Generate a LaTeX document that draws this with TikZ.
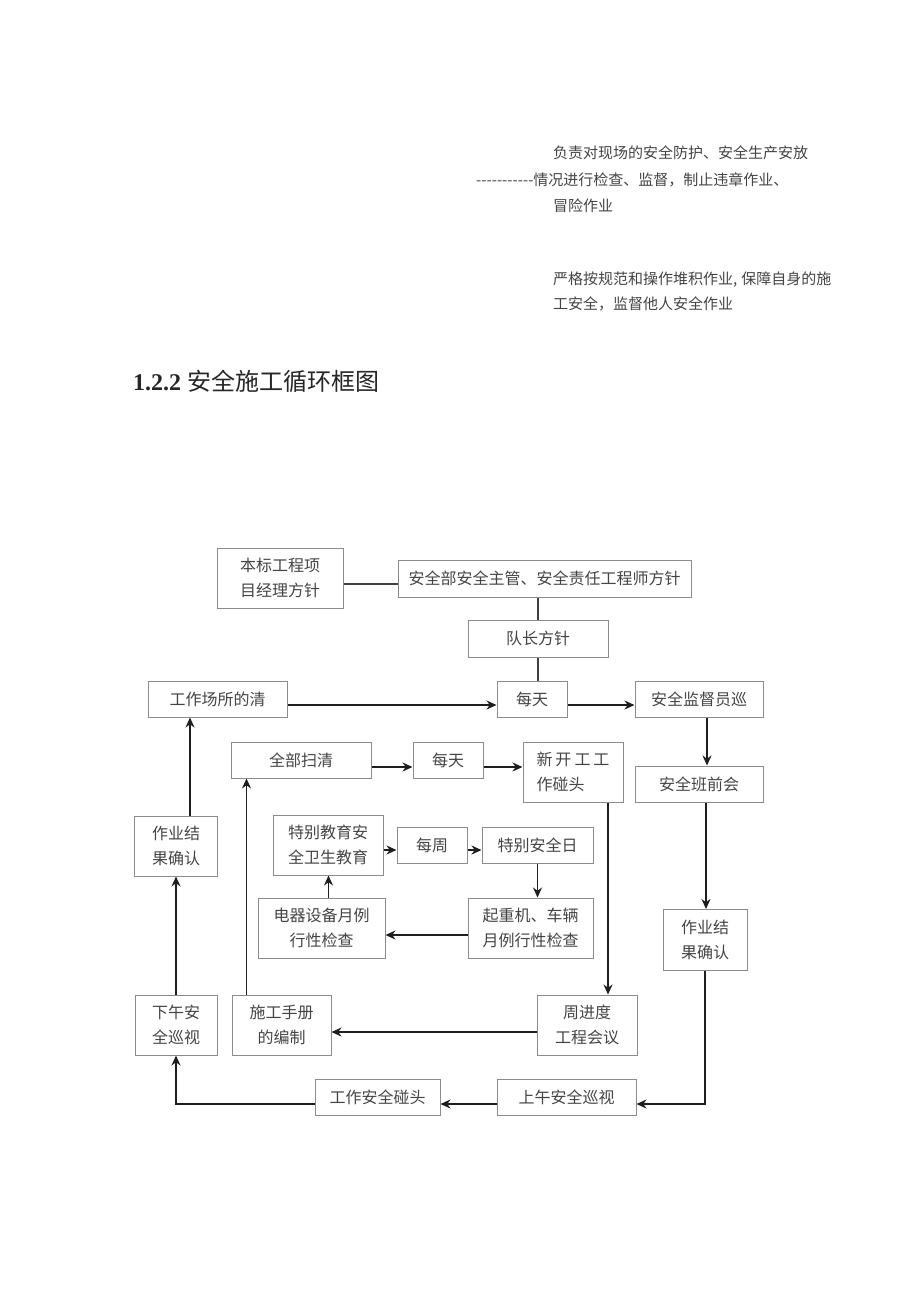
\documentclass[tikz,border=0pt]{standalone}
\usepackage{fontspec}
\newfontfamily\cjk{Noto Sans CJK SC}
\newfontfamily\numfont{Liberation Serif}
\usetikzlibrary{arrows.meta}
\definecolor{boxgray}{HTML}{8C8C8C}
\definecolor{txtgray}{HTML}{444444}
\definecolor{arrgray}{HTML}{1E1E1E}
\begin{document}
\begin{tikzpicture}[x=1pt,y=-1pt,
  box/.style={draw=boxgray,line width=1pt,inner sep=0pt,align=center,text=txtgray,
    font=\cjk\fontsize{16}{25}\selectfont},
  arr/.style={draw=arrgray,line width=1.8pt,-{Stealth[length=10pt,width=9pt]}},
  link/.style={draw=arrgray!85,line width=1.5pt},
  note/.style={anchor=west,inner sep=0pt,text=txtgray,font=\cjk\fontsize{15}{18}\selectfont}]
\useasboundingbox (0,0) rectangle (920,1301);
\node[note] (n1) at (553,153) {负责对现场的安全防护、安全生产安放};
\node[note] (n2) at (476,180) {-{}-{}-{}-{}-{}-{}-{}-{}-{}-{}-情况进行检查、监督，制止违章作业、};
\node[note] (n3) at (553,206) {冒险作业};
\node[note] (n4) at (553,280) {严格按规范和操作堆积作业,\hspace{4pt}保障自身的施};
\node[note] (n5) at (553,304) {工安全，监督他人安全作业};
\node[anchor=west,inner sep=0pt,text=black!85,font=\fontsize{24}{26}\selectfont] (title) at (133,381)
  {\numfont\bfseries 1.2.2\ \cjk\mdseries 安全施工循环框图};
\node[box,minimum width=126pt,minimum height=60pt] (mgr) at (280,578) {本标工程项\\目经理方针};
\node[box,minimum width=293pt,minimum height=37pt] (dept) at (544.5,578.5) {安全部安全主管、安全责任工程师方针};
\node[box,minimum width=140pt,minimum height=37pt] (lead) at (538,638.5) {队长方针};
\node[box,minimum width=139pt,minimum height=36pt] (clean) at (217.5,699) {工作场所的清};
\node[box,minimum width=70pt,minimum height=36pt] (dayA) at (532,699) {每天};
\node[box,minimum width=128pt,minimum height=36pt] (sup) at (699,699) {安全监督员巡};
\node[box,minimum width=140pt,minimum height=36pt] (sweep) at (301,760) {全部扫清};
\node[box,minimum width=70pt,minimum height=36pt] (dayB) at (448,760) {每天};
\node[box,minimum width=100pt,minimum height=60pt,align=left] (start) at (573,772)
  {新\hspace{3pt}开\hspace{3pt}工\hspace{3pt}工\\作碰头};
\node[box,minimum width=128pt,minimum height=36pt] (meet) at (699,784) {安全班前会};
\node[box,minimum width=83pt,minimum height=60pt] (checkL) at (176,846) {作业结\\果确认};
\node[box,minimum width=110pt,minimum height=60pt] (edu) at (328,845) {特别教育安\\全卫生教育};
\node[box,minimum width=70pt,minimum height=36pt] (week) at (432,845) {每周};
\node[box,minimum width=111pt,minimum height=36pt] (sday) at (537.5,845) {特别安全日};
\node[box,minimum width=127pt,minimum height=60pt] (elec) at (321.5,928) {电器设备月例\\行性检查};
\node[box,minimum width=125pt,minimum height=60pt] (crane) at (530.5,928) {起重机、车辆\\月例行性检查};
\node[box,minimum width=84pt,minimum height=61pt] (checkR) at (705,940) {作业结\\果确认};
\node[box,minimum width=82pt,minimum height=60pt] (pm) at (176,1025) {下午安\\全巡视};
\node[box,minimum width=99pt,minimum height=60pt] (manual) at (281.5,1025) {施工手册\\的编制};
\node[box,minimum width=100pt,minimum height=60pt] (prog) at (587,1025) {周进度\\工程会议};
\node[box,minimum width=125pt,minimum height=36pt] (talk) at (377.5,1097) {工作安全碰头};
\node[box,minimum width=139pt,minimum height=36pt] (am) at (566.5,1097) {上午安全巡视};
\draw[link] ([yshift=-6pt]mgr.east) -- ([yshift=-6pt]mgr.east -| dept.west);
\draw[link] (lead.north) -- (lead.north |- dept.south);
\draw[link] (lead.south) -- (lead.south |- dayA.north);
\draw[arr] ([yshift=-6pt]clean.east) -- ([yshift=-6pt]dayA.west);
\draw[arr] ([yshift=-6pt]dayA.east) -- ([yshift=-6pt]sup.west);
\draw[arr] ([xshift=8pt]sup.south) -- ([xshift=8pt]meet.north);
\draw[arr] ([yshift=-7pt]sweep.east) -- ([yshift=-7pt]dayB.west);
\draw[arr] ([yshift=-7pt]dayB.east) -- ([yshift=-7pt]dayB.east -| start.west);
\draw[arr] ([xshift=35pt]start.south) -- ([xshift=35pt]start.south |- prog.north);
\draw[arr] ([xshift=7pt]meet.south) -- ([xshift=7pt]meet.south |- checkR.north);
\draw[arr] (checkR.south) |- ([yshift=-7pt]am.east);
\draw[arr] ([yshift=-7pt]am.west) -- ([yshift=-7pt]talk.east);
\draw[arr] ([yshift=-7pt]talk.west) -| (pm.south);
\draw[arr] (pm.north) -- (checkL.south);
\draw[arr] ([xshift=14pt]checkL.north) -- ([xshift=14pt]checkL.north |- clean.south);
\draw[arr] ([yshift=-7pt]prog.west) -- ([yshift=-7pt]prog.west -| manual.east);
\draw[arr] ([xshift=-35pt]manual.north) -- ([xshift=-35pt]manual.north |- sweep.south);
\draw[arr] ([yshift=-5pt]edu.east) -- ([yshift=-5pt]edu.east -| week.west);
\draw[arr] ([yshift=-5pt]week.east) -- ([yshift=-5pt]sday.west);
\draw[arr] (sday.south) -- (sday.south |- crane.north);
\draw[arr] ([yshift=-7pt]crane.west) -- ([yshift=-7pt]crane.west -| elec.east);
\draw[arr] ([xshift=7pt]elec.north) -- ([xshift=7pt]elec.north |- edu.south);
\end{tikzpicture}
\end{document}
